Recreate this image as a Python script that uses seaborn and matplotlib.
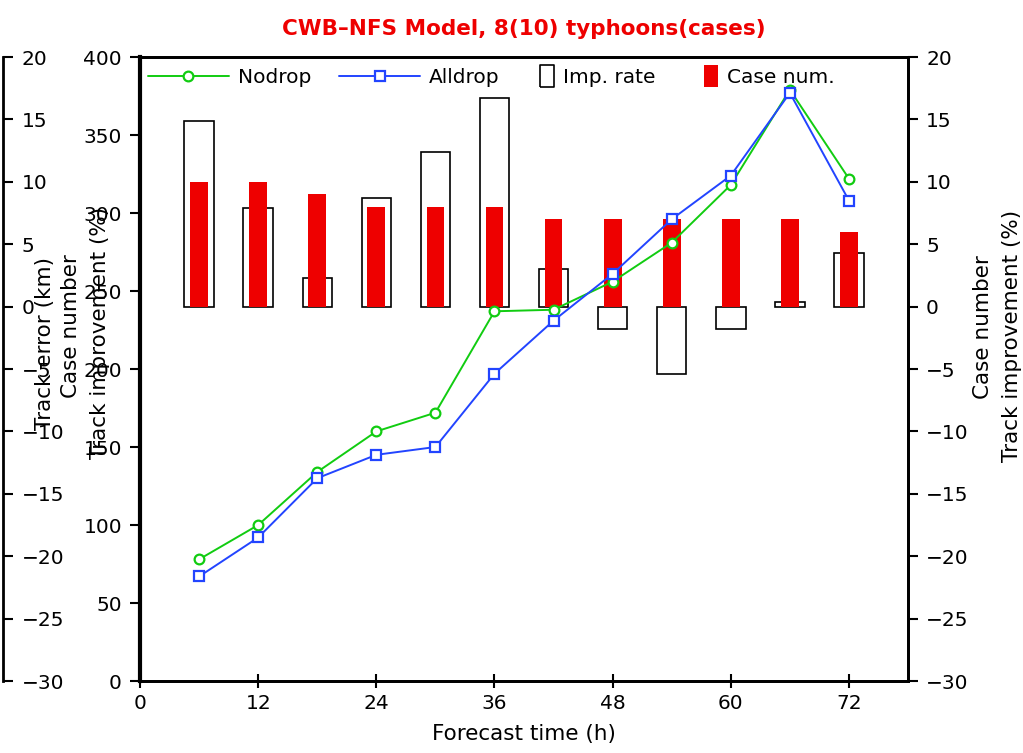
import numpy as np
import pandas as pd
import seaborn as sns
import matplotlib.pyplot as plt
from matplotlib.lines import Line2D

hours = [6, 12, 18, 24, 30, 36, 42, 48, 54, 60, 66, 72]
nodrop = [78, 100, 134, 160, 172, 237, 238, 256, 281, 318, 379, 322]
alldrop = [67, 92, 130, 145, 150, 197, 231, 261, 296, 324, 377, 308]
imp_rate = [14.9, 7.9, 2.3, 8.7, 12.4, 16.7, 3.0, -1.8, -5.4, -1.8, 0.4, 4.3]
case_num = [10, 10, 9, 8, 8, 8, 7, 7, 7, 7, 7, 6]

df = pd.DataFrame({'hour': hours, 'Nodrop': nodrop, 'Alldrop': alldrop,
                   'imp': imp_rate, 'case': case_num})

sns.set_style('ticks')
plt.rcParams['font.family'] = ['DejaVu Sans']
for k in ['text.color', 'axes.labelcolor', 'xtick.color', 'ytick.color', 'axes.edgecolor']:
    plt.rcParams[k] = 'black'
fs = 14.5

fig = plt.figure(figsize=(10.23, 7.53), dpi=100)
ax = fig.add_axes([0.1369, 0.0956, 0.7507, 0.8287])
axr = ax.twinx()
axo = ax.twinx()
ax.set_zorder(3)
ax.patch.set_visible(False)
axr.set_zorder(1)
axo.set_zorder(2)

# bars on the -30..20 axis
sns.barplot(data=df, x='hour', y='imp', native_scale=True, width=0.5, ax=axr,
            color='white', saturation=1, edgecolor='black', linewidth=1.2)
sns.barplot(data=df, x='hour', y='case', native_scale=True, width=0.3, ax=axr,
            color='#ee0000', saturation=1, linewidth=0)

# lines on the km axis
sns.lineplot(data=df, x='hour', y='Nodrop', ax=ax, color='#11cc11', marker='o',
             markersize=7, markerfacecolor='white', markeredgecolor='#11cc11',
             markeredgewidth=1.6, linewidth=1.4)
sns.lineplot(data=df, x='hour', y='Alldrop', ax=ax, color='#2244ff', marker='s',
             markersize=7, markerfacecolor='white', markeredgecolor='#2244ff',
             markeredgewidth=1.6, linewidth=1.4)

ax.set_xlim(0, 78)
ax.set_ylim(0, 400)
ax.set_xticks(range(0, 73, 12))
ax.set_yticks(range(0, 401, 50))
axr.set_ylim(-30, 20)
axr.set_yticks(range(-30, 21, 5))
axo.set_ylim(-30, 20)
axo.set_yticks(range(-30, 21, 5))

ax.yaxis.tick_left()
axr.yaxis.tick_right()
axo.yaxis.tick_right()
for s in ['left', 'top', 'bottom']:
    axo.spines[s].set_visible(False)
axo.spines['right'].set_position(('axes', -0.178))

for a in (ax, axr, axo):
    for s in a.spines.values():
        s.set_linewidth(2)
    a.tick_params(axis='y', direction='out', length=7, width=1.5, labelsize=fs, pad=6)
    a.set_xlabel('')
    a.set_ylabel('')
ax.spines['left'].set_linewidth(3)
ax.tick_params(axis='x', direction='inout', length=10, width=1.5, labelsize=fs, pad=4)
ax.set_xlabel('Forecast time (h)', fontsize=fs + 1, labelpad=8)
ax.set_title('CWB\u2013NFS Model, 8(10) typhoons(cases)', color='#ee0000',
             fontsize=fs + 1, fontweight='bold', pad=16)

# y axis titles
fig.text(0.044, 1 - 343 / 753, 'Track error (km)', rotation=90, ha='center', va='center', fontsize=fs + 1)
fig.text(0.069, 1 - 326 / 753, 'Case number', rotation=90, ha='center', va='center', fontsize=fs + 1)
fig.text(0.098, 1 - 333 / 753, 'Track improvement (%)', rotation=90, ha='center', va='center', fontsize=fs + 1)
fig.text(0.961, 1 - 327 / 753, 'Case number', rotation=90, ha='center', va='center', fontsize=fs + 1)
fig.text(0.989, 1 - 336 / 753, 'Track improvement (%)', rotation=90, ha='center', va='center', fontsize=fs + 1)

box = [(-0.6, -1), (0.6, -1), (0.6, 1), (-0.6, 1), (-0.6, -1)]
line_handles = [
    Line2D([], [], color='#11cc11', marker='o', markersize=7, markerfacecolor='white', markeredgewidth=1.6, lw=1.4),
    Line2D([], [], color='#2244ff', marker='s', markersize=7, markerfacecolor='white', markeredgewidth=1.6, lw=1.4),
]
bar_handles = [
    Line2D([], [], ls='None', marker=box, markersize=16, markerfacecolor='white', markeredgecolor='black', markeredgewidth=1.2),
    Line2D([], [], ls='None', marker=box, markersize=16, markerfacecolor='#ee0000', markeredgecolor='#ee0000', markeredgewidth=0),
]
leg1 = ax.legend(line_handles, ['Nodrop', 'Alldrop'], loc='upper left',
                 ncol=2, frameon=False, fontsize=fs, handlelength=4.0, handletextpad=0.45,
                 columnspacing=1.4, borderaxespad=0.0, bbox_to_anchor=(0.0, 0.996))
ax.add_artist(leg1)
ax.legend(bar_handles, ['Imp. rate', 'Case num.'], loc='upper left',
          ncol=2, frameon=False, fontsize=fs, handlelength=0.7, handletextpad=0.45,
          columnspacing=2.4, borderaxespad=0.0, bbox_to_anchor=(0.51, 0.996))

fig.savefig('out.png', dpi=100)
